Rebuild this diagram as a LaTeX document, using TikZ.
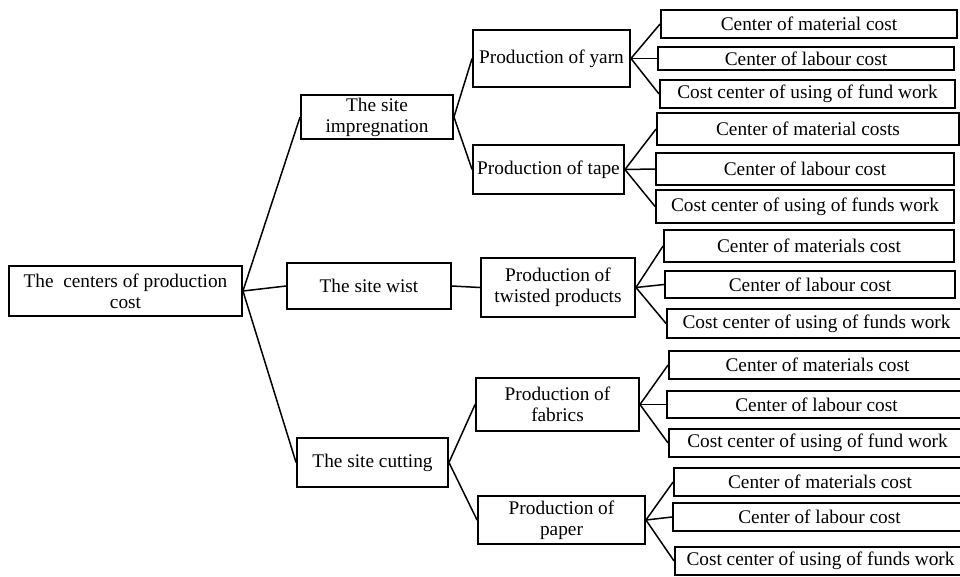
\documentclass[tikz,border=0pt]{standalone}
\usepackage{fontspec}
\setmainfont{Liberation Serif}
\begin{document}
\begin{tikzpicture}[x=1pt,y=-1pt,
  box/.style={draw,line width=1.9pt,inner sep=0pt,align=center,
    font=\fontsize{19.3}{21}\selectfont},
  link/.style={line width=1.5pt}]
\clip (0,0) rectangle (960,576);
\fill[white] (0,0) rectangle (960,576);

% root and sites
\node[box,minimum width=233pt,minimum height=50pt] (root) at (125.5,291) {The\ \ centers of production\\cost};
\node[box,minimum width=152pt,minimum height=44pt] (imp) at (377,117) {The site\\impregnation};
\node[box,minimum width=164pt,minimum height=46pt] (wist) at (369,286) {The site wist};
\node[box,minimum width=151pt,minimum height=49pt] (cut) at (372.5,462.5) {The site cutting};

% productions
\node[box,minimum width=157pt,minimum height=57pt] (yarn) at (551.5,58.5) {Production of yarn};
\node[box,minimum width=151pt,minimum height=49pt] (tape) at (548.5,169.5) {Production of tape};
\node[box,minimum width=154pt,minimum height=59pt] (twist) at (558,287.5) {Production of\\twisted products};
\node[box,minimum width=163pt,minimum height=53pt] (fab) at (557.5,404.5) {Production of\\fabrics};
\node[box,minimum width=167pt,minimum height=48pt] (paper) at (561.5,520) {Production of\\paper};

% cost centers
\node[box,minimum width=296pt,minimum height=28pt] (yarn1) at (809,24) {Center of material cost};
\node[box,minimum width=296pt,minimum height=23pt] (yarn2) at (806,58.5) {Center of labour cost};
\node[box,minimum width=295pt,minimum height=28pt] (yarn3) at (807.5,94) {Cost center of using of fund work};
\node[box,minimum width=302pt,minimum height=32pt] (tape1) at (808,129) {Center of material costs};
\node[box,minimum width=298pt,minimum height=32pt] (tape2) at (805,169) {Center of labour cost};
\node[box,minimum width=298pt,minimum height=33pt] (tape3) at (805,206.5) {Cost center of using of funds work};
\node[box,minimum width=290pt,minimum height=32pt] (twist1) at (809,246) {Center of materials cost};
\node[box,minimum width=290pt,minimum height=27pt] (twist2) at (810,284.5) {Center of labour cost};
\node[box,minimum width=299pt,minimum height=29pt] (twist3) at (816.5,323.5) {Cost center of using of funds work};
\node[box,minimum width=297pt,minimum height=28pt] (fab1) at (817.5,365) {Center of materials cost};
\node[box,minimum width=299pt,minimum height=27pt] (fab2) at (816.5,404.5) {Center of labour cost};
\node[box,minimum width=297pt,minimum height=28pt] (fab3) at (817.5,443) {Cost center of using of fund work};
\node[box,minimum width=292pt,minimum height=28pt] (paper1) at (820,482) {Center of materials cost};
\node[box,minimum width=293pt,minimum height=28pt] (paper2) at (819.5,517) {Center of labour cost};
\node[box,minimum width=291pt,minimum height=28pt] (paper3) at (820.5,561) {Cost center of using of funds work};

% connectors
\foreach \b in {imp,wist,cut}
    \draw[link] (root.east) -- (\b.west);
\draw[link] (imp.east) -- (yarn.west);
\draw[link] (imp.east) -- (tape.west);
\draw[link] (wist.east) -- (twist.west);
\draw[link] (cut.east) -- (fab.west);
\draw[link] (cut.east) -- (paper.west);
\foreach \p in {yarn,tape,twist,fab,paper}
    \foreach \i in {1,2,3}
        \draw[link] (\p.east) -- (\p\i.west);
\end{tikzpicture}
\end{document}
